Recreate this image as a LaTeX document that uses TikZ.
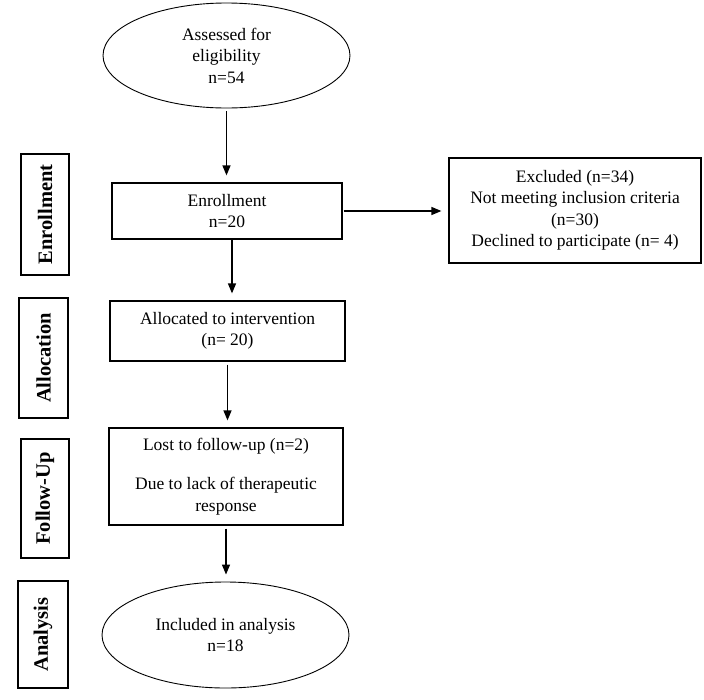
\documentclass[tikz,border=0pt]{standalone}
\usepackage{fontspec}
\setmainfont{Liberation Serif}
\usetikzlibrary{shapes.geometric,arrows.meta}
\tikzset{
  mainbox/.style={draw, line width=1.2pt, inner sep=0pt, align=center, font=\fontsize{17.5}{21.5}\selectfont},
  oval/.style={ellipse, draw, line width=0.9pt, inner sep=0pt, minimum width=247, minimum height=105, align=center, font=\fontsize{17.5}{21.5}\selectfont},
  sidebox/.style={draw, line width=1.8pt, rotate=90, inner sep=0pt, font=\fontsize{20.5}{24}\selectfont\bfseries},
  arr/.style={-{Triangle[length=10pt,width=8pt]}, line width=1.3pt, shorten <=3pt, shorten >=7pt}
}
\begin{document}
\begin{tikzpicture}[x=1pt,y=-1pt]
		\useasboundingbox (0,0) rectangle (704,699);
		%%%%% MAIN COLUMN %%%%%
		\node[oval] (elig) at (226.5,55.5) {Assessed for\\eligibility\\n=54};
		\node[mainbox, minimum width=230, minimum height=56] (enrol) at (227,211) {Enrollment\\n=20};
		\node[mainbox, minimum width=252, minimum height=105] (excl) at (575,210.5) {Excluded (n=34)\\Not meeting inclusion criteria\\(n=30)\\Declined to participate (n= 4)};
		\node[mainbox, minimum width=235, minimum height=60] (alloc) at (227.5,331) {Allocated to intervention\\(n= 20)};
		\node[mainbox, minimum width=234, minimum height=97] (lost) at (226,476.5) {Lost to follow-up (n=2)\\[18pt]Due to lack of therapeutic\\response};
		\node[oval, minimum height=106] (incl) at (225.5,635) {Included in analysis\\n=18};
		
		%%%%% SIDE LABELS %%%%%
		\node[sidebox, minimum width=121, minimum height=48] (sEnrol) at (45,214.5) {Enrollment};
		\node[sidebox, minimum width=120, minimum height=49] (sAlloc) at (43.5,358) {Allocation};
		\node[sidebox, minimum width=119, minimum height=48] (sFollow) at (45,498.5) {Follow-Up};
		\node[sidebox, minimum width=107, minimum height=50] (sAnal) at (43,634.5) {Analysis};
		
		%%%%% ARROWS %%%%%
		\draw[arr] (elig.south) -- (elig.south |- enrol.north);
		\draw[arr, shorten <=0pt] ([xshift=5pt]enrol.south) -- ([xshift=5pt]enrol.south |- alloc.north);
		\draw[arr] (alloc.south) -- (alloc.south |- lost.north);
		\draw[arr] (lost.south) -- (lost.south |- incl.north);
		\draw[arr, shorten <=1pt] (enrol.east) -- (enrol.east -| excl.west);
	\end{tikzpicture}
\end{document}
